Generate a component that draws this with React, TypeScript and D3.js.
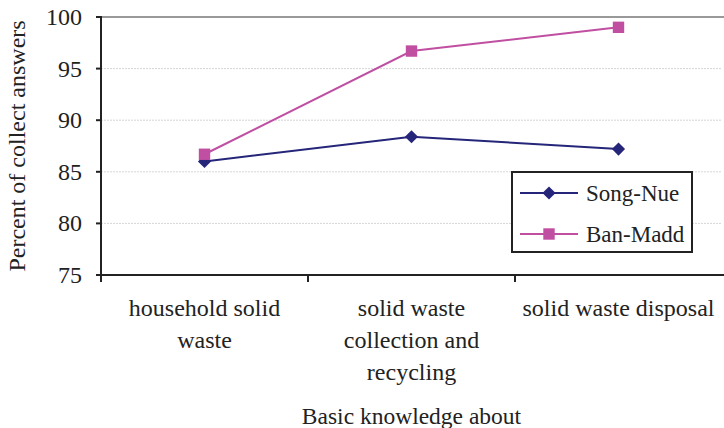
import React from 'react';
import * as d3 from 'd3';

const categories = ['household solid waste', 'solid waste collection and recycling', 'solid waste disposal'];
const categoryLines = [['household solid', 'waste'], ['solid waste', 'collection and', 'recycling'], ['solid waste disposal']];
const songNue = [86.0, 88.4, 87.2];
const banMadd = [86.7, 96.7, 99.0];
const yTicks = [75, 80, 85, 90, 95, 100];

const width = 724, height = 428;
const margin = { top: 17, right: 2, bottom: 153, left: 101 };
const font = 'Liberation Serif';
const ink = '#222';
const txt = { fontFamily: font };

export default function App() {
    const x = d3.scaleBand().domain(categories).range([margin.left, width - margin.right]);
    const y = d3.scaleLinear().domain([75, 100]).range([height - margin.bottom, margin.top]);
    const cx = (c: string) => (x(c) ?? 0) + x.bandwidth() / 2;
    const line = d3.line<number>().x((_, i) => cx(categories[i])).y(d => y(d));
    const series = [
        { name: 'Song-Nue', values: songNue, color: '#25257a', shape: d3.symbolDiamond2, size: 110 },
        { name: 'Ban-Madd', values: banMadd, color: '#c04fa2', shape: d3.symbolSquare, size: 130 },
    ];

    return (
        <svg width={width} height={height} style={{ position: 'absolute', left: 0, top: 0 }} fontFamily={font}>
            {yTicks.filter(t => t > 75 && t < 100).map(t => (
                <line key={t} x1={margin.left} x2={width - margin.right} y1={y(t)} y2={y(t)}
                    stroke="#d6d6d6" strokeWidth={1} strokeDasharray="2,1" />
            ))}
            <line x1={margin.left} x2={width} y1={y(100)} y2={y(100)} stroke="#999" strokeWidth={2} />

            <line x1={margin.left} x2={margin.left} y1={y(100) - 1} y2={y(75) + 1} stroke={ink} strokeWidth={2} />
            {yTicks.map(t => (
                <g key={t}>
                    <line x1={margin.left - 5} x2={margin.left} y1={y(t)} y2={y(t)} stroke={ink} strokeWidth={2} />
                    <text x={margin.left - 19} y={y(t) + 8} textAnchor="end" fontSize={24} fill={ink}
                        fontFamily={font} style={txt}>{t}</text>
                </g>
            ))}

            <line x1={margin.left - 5} x2={width} y1={y(75)} y2={y(75)} stroke={ink} strokeWidth={2} />
            {categories.map(c => (
                <line key={c} x1={x(c) ?? 0} x2={x(c) ?? 0} y1={y(75)} y2={y(75) + 7} stroke={ink} strokeWidth={2} />
            ))}
            {categories.map((c, i) => categoryLines[i].map((ln, j) => (
                <text key={c + j} x={cx(c)} y={316 + j * 32} textAnchor="middle" fontSize={24} fill={ink}
                    fontFamily={font} style={txt}>{ln}</text>
            )))}
            <text x={(margin.left + width - margin.right) / 2} y={424} textAnchor="middle" fontSize={23.5} fill={ink}
                fontFamily={font} style={txt}>Basic knowledge about</text>
            <text transform={`translate(25,${(y(75) + y(100)) / 2}) rotate(-90)`} textAnchor="middle" fontSize={24} fill={ink}
                fontFamily={font} style={txt}>Percent of collect answers</text>

            {series.map(s => (
                <g key={s.name}>
                    <path d={line(s.values) ?? ''} fill="none" stroke={s.color} strokeWidth={2} />
                    {s.values.map((v, i) => (
                        <path key={i} transform={`translate(${cx(categories[i])},${y(v)})`}
                            d={d3.symbol(s.shape, s.size)() ?? ''} fill={s.color} />
                    ))}
                </g>
            ))}

            <g transform="translate(512,172)">
                <rect width={180} height={80} fill="#fff" stroke={ink} strokeWidth={2} />
                {series.map((s, i) => {
                    const yy = 21 + i * 41;
                    return (
                        <g key={s.name}>
                            <line x1={8} x2={66} y1={yy} y2={yy} stroke={s.color} strokeWidth={2} />
                            <path transform={`translate(37,${yy})`} d={d3.symbol(s.shape, s.size)() ?? ''} fill={s.color} />
                            <text x={74} y={yy + 8} fontSize={23} fill={ink} fontFamily={font} style={txt}>{s.name}</text>
                        </g>
                    );
                })}
            </g>
        </svg>
    );
}
